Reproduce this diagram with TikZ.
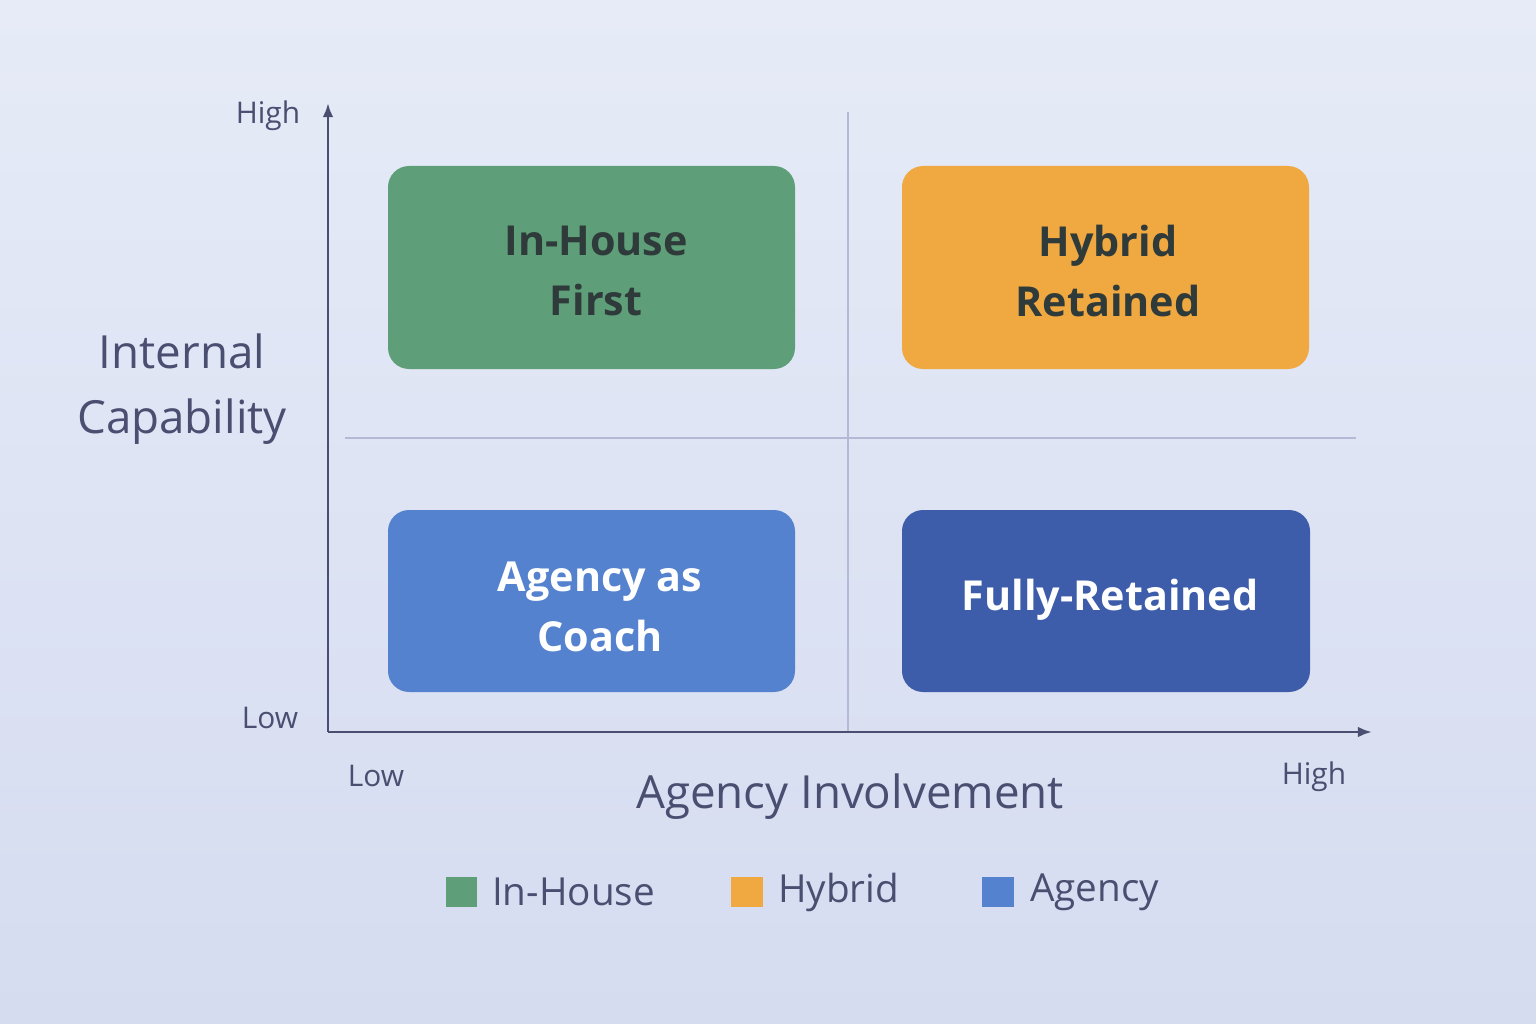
\documentclass[tikz,border=0pt]{standalone}
\usepackage{fontspec}
\usetikzlibrary{arrows.meta}
\setmainfont{Open Sans}
\definecolor{bgA}{HTML}{E6EBF7}
\definecolor{bgB}{HTML}{D5DCF0}
\definecolor{axisc}{HTML}{4A4E70}
\definecolor{gridc}{HTML}{B4BAD6}
\definecolor{greenq}{HTML}{5E9E78}
\definecolor{orangeq}{HTML}{F0A840}
\definecolor{blueq}{HTML}{5482CF}
\definecolor{dblueq}{HTML}{3D5CAA}
\definecolor{darktxt}{HTML}{2F3A3A}
\definecolor{labtxt}{HTML}{4A4E70}
\tikzset{
  quad/.style={rounded corners=12pt, draw=none},
  qtext/.style={font=\fontsize{23.5}{34}\selectfont\bfseries, align=center},
  tick/.style={font=\fontsize{17}{18}\selectfont, text=labtxt},
  axlab/.style={font=\fontsize{26}{37}\selectfont, text=labtxt, align=center},
  leg/.style={font=\fontsize{22}{22}\selectfont, text=labtxt, anchor=west},
}
\begin{document}
\begin{tikzpicture}[x=0.02cm,y=-0.02cm]
\useasboundingbox (0,0) rectangle (1536,1024);
\shade[top color=bgA, bottom color=bgB] (0,0) rectangle (1536,1024);
% grid
\draw[gridc, line width=0.8pt] (848,112) -- (848,732);
\draw[gridc, line width=0.8pt] (345,438) -- (1356,438);
% axes
\coordinate (o) at (328,732);
\coordinate (ytop) at (328,103);
\coordinate (xend) at (1372,732);
\draw[axisc, line width=1.5pt, -{Latex[length=8pt]}] (o) -- (ytop);
\draw[axisc, line width=1.5pt, -{Latex[length=8pt]}] (o) -- (xend);
% quadrants
\fill[quad, greenq] (388,166) rectangle (795,369);
\fill[quad, orangeq] (902,166) rectangle (1309,369);
\fill[quad, blueq] (388,510) rectangle (795,692);
\fill[quad, dblueq] (902,510) rectangle (1310,692);
\node[qtext, text=darktxt] (q1) at (596,271) {In-House\\First};
\node[qtext, text=darktxt] (q2) at (1108,271) {Hybrid\\Retained};
\node[qtext, text=white] (q3) at (600,607) {Agency as\\Coach};
\node[qtext, text=white] (q4) at (1110,600) {Fully-Retained};
% tick labels
\node[tick] (yh) at (268,116) {High};
\node[tick] (yl) at (270,718) {Low};
\node[tick] (xl) at (376,776) {Low};
\node[tick] (xh) at (1314,777) {High};
\node[axlab] (ylab) at (182,389) {Internal\\Capability};
\node[axlab] (xlab) at (850,797) {Agency Involvement};
% legend
\fill[greenq] (446,877) rectangle (477,907);
\node[leg] (l1) at (486,892) {In-House};
\fill[orangeq] (731,877) rectangle (763,907);
\node[leg] (l2) at (772,892) {Hybrid};
\fill[blueq] (982,877) rectangle (1014,907);
\node[leg] (l3) at (1024,892) {Agency};
\end{tikzpicture}
\end{document}
